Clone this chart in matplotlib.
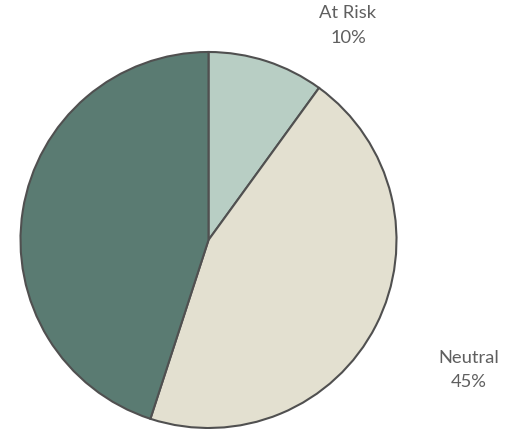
import matplotlib
matplotlib.use("Agg")
import matplotlib.pyplot as plt
import numpy as np

categories = ["At Risk", "Neutral", "Engaged"]
values = [10, 45, 45]
show_label = [True, True, False]
colors = ["#B8CEC4", "#E3E0D0", "#5A7B72"]

W, H = 513, 429
fig = plt.figure(figsize=(W / 100, H / 100), dpi=100)
ax = fig.add_axes([0, 0, 1, 1])

cx, cy, R = 208.5, 240.0, 188.0  # pixel position of centre (from top-left) and radius

wedges, _ = ax.pie(values, colors=colors, startangle=90, counterclock=False,
                   radius=R, center=(0, 0),
                   wedgeprops=dict(edgecolor="#505050", linewidth=1.5))
ax.set_xlim(-cx, W - cx)
ax.set_ylim(-(H - cy), cy)
ax.set_aspect("equal")
ax.axis("off")

# label placement: (radius, angle offset in degrees) per slice
label_pos = [(256, 15), (291, -0.5), (290, 0)]
total = sum(values)
start = 90.0
for i, (cat, v) in enumerate(zip(categories, values)):
    ang = start - 360.0 * v / total / 2
    start -= 360.0 * v / total
    if not show_label[i]:
        continue
    r, off = label_pos[i]
    a = np.deg2rad(ang - off)
    ax.text(r * np.cos(a), r * np.sin(a), f"{cat}\n{v}%",
            ha="center", va="center", fontsize=13.2, color="#5F5F5F",
            family="Lato", linespacing=1.65)

fig.savefig("out.png", dpi=100)
